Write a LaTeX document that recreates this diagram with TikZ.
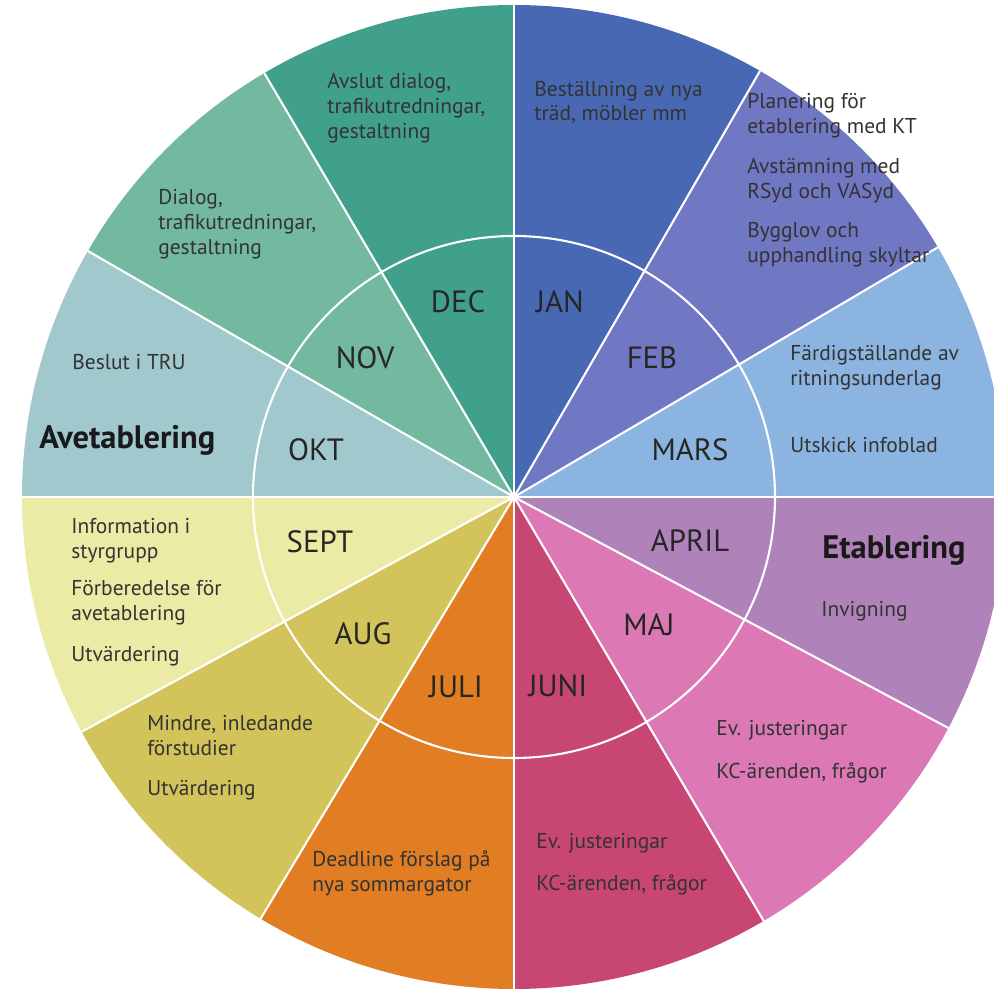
\documentclass[tikz,border=0pt]{standalone}
\usepackage{fontspec}
\setmainfont{PT Sans}
\definecolor{janc}{RGB}{72,104,180}
\definecolor{febc}{RGB}{112,120,195}
\definecolor{marsc}{RGB}{140,180,225}
\definecolor{aprilc}{RGB}{175,130,185}
\definecolor{majc}{RGB}{220,120,180}
\definecolor{junic}{RGB}{200,70,115}
\definecolor{julic}{RGB}{225,125,35}
\definecolor{augc}{RGB}{210,195,90}
\definecolor{septc}{RGB}{235,235,165}
\definecolor{oktc}{RGB}{160,200,205}
\definecolor{novc}{RGB}{115,185,160}
\definecolor{decc}{RGB}{65,160,140}
\tikzset{
  sep/.style={draw=white, line width=1.2pt},
  monthlbl/.style={font=\fontsize{17.5}{19}\selectfont, text=black!85},
  note/.style={font=\fontsize{12.2}{14.2}\selectfont, align=left, anchor=west, inner sep=0pt, text=black!80},
  phase/.style={font=\bfseries\fontsize{18.5}{20}\selectfont, anchor=west, inner sep=0pt, text=black!90},
}

\begin{document}
\begin{tikzpicture}
            \useasboundingbox (-10.28,-9.92) rectangle (9.6,9.94);
            \clip (-10.28,-9.92) rectangle (9.6,9.94);
            % slices
            \fill[janc] (0,0) -- (60:9.84) arc[start angle=60,end angle=90,radius=9.84] -- cycle;
            \fill[febc] (0,0) -- (30.5:9.84) arc[start angle=30.5,end angle=60,radius=9.84] -- cycle;
            \fill[marsc] (0,0) -- (0:9.84) arc[start angle=0,end angle=30.5,radius=9.84] -- cycle;
            \fill[aprilc] (0,0) -- (-28:9.84) arc[start angle=-28,end angle=0,radius=9.84] -- cycle;
            \fill[majc] (0,0) -- (-59.5:9.84) arc[start angle=-59.5,end angle=-28,radius=9.84] -- cycle;
            \fill[junic] (0,0) -- (-90:9.84) arc[start angle=-90,end angle=-59.5,radius=9.84] -- cycle;
            \fill[julic] (0,0) -- (-121:9.84) arc[start angle=-121,end angle=-90,radius=9.84] -- cycle;
            \fill[augc] (0,0) -- (-151.5:9.84) arc[start angle=-151.5,end angle=-121,radius=9.84] -- cycle;
            \fill[septc] (0,0) -- (-180:9.84) arc[start angle=-180,end angle=-151.5,radius=9.84] -- cycle;
            \fill[oktc] (0,0) -- (150:9.84) arc[start angle=150,end angle=180,radius=9.84] -- cycle;
            \fill[novc] (0,0) -- (120.5:9.84) arc[start angle=120.5,end angle=150,radius=9.84] -- cycle;
            \fill[decc] (0,0) -- (90:9.84) arc[start angle=90,end angle=120.5,radius=9.84] -- cycle;
            % separators
            \draw[sep] (0,0) circle[radius=5.22];
            \draw[sep] (0,0) -- (90:9.84);
            \draw[sep] (0,0) -- (60:9.84);
            \draw[sep] (0,0) -- (30.5:9.84);
            \draw[sep] (0,0) -- (0:9.84);
            \draw[sep] (0,0) -- (-28:9.84);
            \draw[sep] (0,0) -- (-59.5:9.84);
            \draw[sep] (0,0) -- (-90:9.84);
            \draw[sep] (0,0) -- (-121:9.84);
            \draw[sep] (0,0) -- (-151.5:9.84);
            \draw[sep] (0,0) -- (180:9.84);
            \draw[sep] (0,0) -- (150:9.84);
            \draw[sep] (0,0) -- (120.5:9.84);
            % months
            \node[monthlbl] (jan) at (0.92,3.90) {JAN};
            \node[monthlbl] (feb) at (2.76,2.78) {FEB};
            \node[monthlbl] (mars) at (3.52,0.94) {MARS};
            \node[monthlbl] (april) at (3.52,-0.88) {APRIL};
            \node[monthlbl] (maj) at (2.70,-2.56) {MAJ};
            \node[monthlbl] (juni) at (0.88,-3.78) {JUNI};
            \node[monthlbl] (juli) at (-1.16,-3.80) {JULI};
            \node[monthlbl] (aug) at (-3.02,-2.74) {AUG};
            \node[monthlbl] (sept) at (-3.88,-0.90) {SEPT};
            \node[monthlbl] (okt) at (-3.96,0.94) {OKT};
            \node[monthlbl] (nov) at (-2.98,2.78) {NOV};
            \node[monthlbl] (dec) at (-1.12,3.90) {DEC};
            % activities
            \node[note] (janA) at (0.40,7.89) {Beställning av nya\\träd, möbler mm};
            \node[note] (febA) at (4.66,7.62) {Planering för\\etablering med KT};
            \node[note] (febB) at (4.66,6.33) {Avstämning med\\RSyd och VASyd};
            \node[note] (febC) at (4.66,5.04) {Bygglov och\\upphandling skyltar};
            \node[note] (marsA) at (5.52,2.59) {Färdigställande av\\ritningsunderlag};
            \node[note] (marsB) at (5.52,1.04) {Utskick infoblad};
            \node[phase] (etab) at (6.16,-1.06) {Etablering};
            \node[note] (aprilA) at (6.14,-2.28) {Invigning};
            \node[note] (majA) at (4.04,-4.66) {Ev. justeringar};
            \node[note] (majB) at (4.04,-5.52) {KC-ärenden, frågor};
            \node[note] (juniA) at (0.44,-6.92) {Ev. justeringar};
            \node[note] (juniB) at (0.44,-7.76) {KC-ärenden, frågor};
            \node[note] (juliA) at (-4.04,-7.53) {Deadline förslag på\\nya sommargator};
            \node[note] (augA) at (-7.34,-4.78) {Mindre, inledande\\förstudier};
            \node[note] (augB) at (-7.34,-5.86) {Utvärdering};
            \node[note] (septA) at (-8.86,-0.87) {Information i\\styrgrupp};
            \node[note] (septB) at (-8.86,-2.12) {Förberedelse för\\avetablering};
            \node[note] (septC) at (-8.86,-3.18) {Utvärdering};
            \node[phase] (avetab) at (-9.50,1.14) {Avetablering};
            \node[note] (oktA) at (-8.84,2.70) {Beslut i TRU};
            \node[note] (novA) at (-7.12,5.46) {Dialog,\\trafikutredningar,\\gestaltning};
            \node[note] (decA) at (-3.74,7.78) {Avslut dialog,\\trafikutredningar,\\gestaltning};
        \end{tikzpicture}
\end{document}
